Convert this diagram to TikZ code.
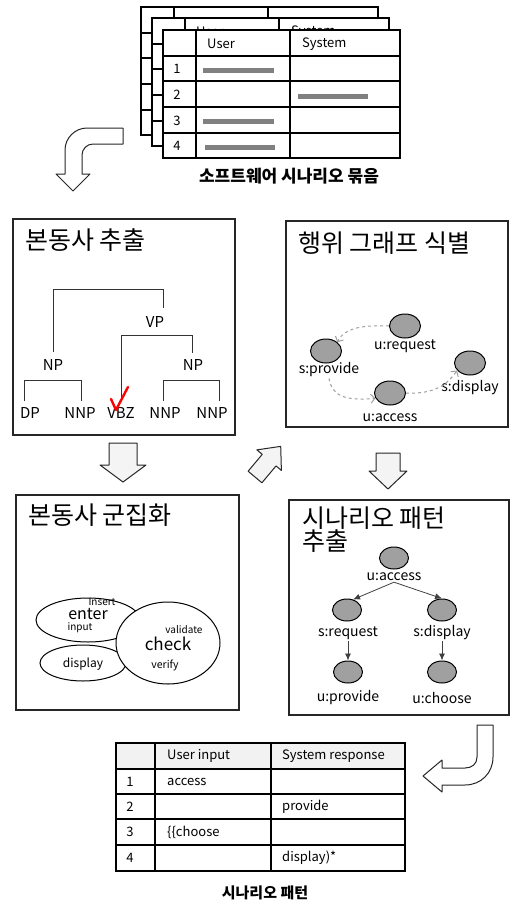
\documentclass[tikz,border=0pt]{standalone}
\usepackage{fontspec}
\setmainfont{Noto Sans CJK KR}
\usetikzlibrary{shapes.geometric,arrows.meta}
\definecolor{nodegray}{RGB}{160,160,160}
\definecolor{bargray}{RGB}{128,128,128}
\definecolor{arrowfill}{RGB}{244,244,244}
\definecolor{hdrfill}{RGB}{242,242,242}
\tikzset{
  mainbox/.style={draw=black!85, line width=1.5pt},
  boxtitle/.style={anchor=west, font=\fontsize{25}{27}\selectfont, inner sep=0},
  tlabel/.style={font=\fontsize{15}{17}\selectfont, inner sep=1pt},
  treeline/.style={draw=black!80, line width=0.8pt},
  gnode/.style={ellipse, draw=black, line width=1pt, fill=nodegray, minimum width=31, minimum height=24, inner sep=0},
  pnode/.style={ellipse, draw=black, line width=1pt, fill=nodegray, minimum width=29, minimum height=22, inner sep=0},
  glabel/.style={font=\fontsize{14}{16}\selectfont, inner sep=1pt},
  dasharrow/.style={draw=black!38, dashed, line width=1pt, -{Straight Barb[length=4pt,width=9pt]}},
  patarrow/.style={draw=black!75, line width=0.8pt, -{Latex[length=7pt,width=6pt]}},
  blockarrow/.style={draw=black!85, line width=1pt, fill=arrowfill, line join=round},
  tabline/.style={draw=black, line width=1.2pt},
  tabtext/.style={font=\fontsize{13}{15}\selectfont, inner sep=0},
  clus/.style={ellipse, draw=black, line width=1pt, fill=white, inner sep=0},
  capt/.style={font=\bfseries\fontsize{17}{19}\selectfont, inner sep=0}
}
\begin{document}
\begin{tikzpicture}[x=1pt,y=-1pt]
\useasboundingbox (0,0) rectangle (510,903);

% ---------- stacked scenario tables ----------
\foreach \i/\ox/\oy in {1/141/7, 2/152/18, 3/163/30} {
  \begin{scope}[shift={(\ox,\oy)}]
    \draw[tabline, fill=white] (0,0) rectangle (237,128);
    \draw[tabline] (33,0) -- (33,128) (127,0) -- (127,128);
    \foreach \ry in {26,51,77,103} \draw[tabline] (0,\ry) -- (237,\ry);
    \ifnum\i>1
      \node[tabtext, anchor=west] (t\i-user) at (44,14) {User};
      \node[tabtext, anchor=west] (t\i-sys) at (139,14) {System};
      \foreach \n/\ry in {1/39, 2/64.5, 3/90.5, 4/116} \node[tabtext] (t\i-r\n) at (14,\ry) {\n};
    \fi
    \fill[bargray] (40,37.5) rectangle (111,42.5);
    \fill[bargray] (135,63.5) rectangle (205,68.5);
    \fill[bargray] (40,88.5) rectangle (111,93.5);
    \fill[bargray] (42,114.5) rectangle (112,119.5);
  \end{scope}
}
\node[capt] (cap1) at (289,176) {소프트웨어 시나리오 묶음};

% ---------- curved arrow top-left ----------
\draw[blockarrow, fill=white] (123,128) -- (87,128) .. controls (75,128) and (65,138) .. (65,150)
  -- (65,174) -- (56,174) -- (73,191) -- (90,174) -- (82,174) -- (82,155)
  .. controls (82,149) and (87,144) .. (93,144) -- (123,144) -- cycle;

% ---------- box 1 ----------
\draw[mainbox] (13,219) rectangle (235,435);
\node[boxtitle] (b1t) at (25,240) {본동사 추출};
\node[tlabel] (vp) at (155,322) {VP};
\node[tlabel] (npL) at (53,365) {NP};
\node[tlabel] (npR) at (193,365) {NP};
\node[tlabel] (dp) at (30,413) {DP};
\node[tlabel] (nnp1) at (80,413) {NNP};
\node[tlabel] (vbz) at (121,413) {VBZ};
\node[tlabel] (nnp2) at (165,413) {NNP};
\node[tlabel] (nnp3) at (212,413) {NNP};
\draw[treeline] (53,352) -- (53,289) -- (163,289) -- (163,308);
\draw[treeline] (121,401) -- (121,335) -- (192,335) -- (192,353);
\draw[treeline] (24,401) -- (24,380) -- (81,380) -- (81,401);
\draw[treeline] (163,401) -- (163,380) -- (219,380) -- (219,401);
\draw[red, line width=2.4pt, line cap=round, line join=round] (111,399) -- (116,410) -- (128,387);

% ---------- box 2 ----------
\draw[mainbox] (286,221) rectangle (508,427);
\node[boxtitle] (b2t) at (298,243) {행위 그래프 식별};
\node[gnode] (ureq) at (405,326) {};
\node[glabel] (ureql) at (405,346) {u:request};
\node[gnode] (sprov) at (326,351) {};
\node[glabel] (sprovl) at (329,370) {s:provide};
\node[gnode] (sdisp) at (470,363) {};
\node[glabel] (sdispl) at (470,388) {s:display};
\node[gnode] (uacc) at (390,393) {};
\node[glabel] (uaccl) at (390,418) {u:access};
\draw[dasharrow] (ureq.west) .. controls (365,325) and (345,327) .. (sprov.north east);
\draw[dasharrow] (sprovl.south) .. controls (332,396) and (345,401) .. (uacc.200);
\draw[dasharrow] (uacc.east) .. controls (430,394) and (445,388) .. (sdisp.210);

% ---------- arrows between boxes ----------
\draw[blockarrow] (109,443) -- (137,443) -- (137,465) -- (146,465) -- (123,482) -- (100,465) -- (109,465) -- cycle;
\draw[blockarrow] (376,453) -- (400,453) -- (400,471) -- (407,471) -- (388,489) -- (369,471) -- (376,471) -- cycle;
\begin{scope}[shift={(255,477)}, rotate=50]
  \draw[blockarrow] (0,-9) -- (22,-9) -- (22,-16) -- (40,0) -- (22,16) -- (22,9) -- (0,9) -- cycle;
\end{scope}

% ---------- box 3 ----------
\draw[mainbox] (16,495) rectangle (239,710);
\node[boxtitle] (b3t) at (28,515) {본동사 군집화};
\node[clus, minimum width=104, minimum height=44] (cEnter) at (88,620) {};
\node[clus, minimum width=86, minimum height=36] (cDisp) at (83,663) {};
\node[clus, minimum width=104, minimum height=82] (cCheck) at (168,643) {};
\node[font=\fontsize{10}{11}\selectfont, inner sep=0] (wIns) at (102,602) {Insert};
\node[font=\fontsize{16}{17}\selectfont, inner sep=0] (wEnt) at (88,614) {enter};
\node[font=\fontsize{10}{11}\selectfont, inner sep=0] (wInp) at (80,628) {input};
\node[font=\fontsize{10}{11}\selectfont, inner sep=0] (wVal) at (184,630) {validate};
\node[font=\fontsize{17}{18}\selectfont, inner sep=0] (wChk) at (168,644) {check};
\node[font=\fontsize{10.5}{11}\selectfont, inner sep=0] (wVer) at (165,665) {verify};
\node[font=\fontsize{12}{13}\selectfont, inner sep=0] (wDis) at (83,664) {display};

% ---------- box 4 ----------
\draw[mainbox] (289,500) rectangle (509,715);
\node[boxtitle] (b4t) at (302,518) {시나리오 패턴};
\node[boxtitle] (b4t2) at (302,541) {추출};
\node[pnode] (pacc) at (394,558) {};
\node[glabel] (paccl) at (394,577) {u:access};
\node[pnode] (preq) at (347,610) {};
\node[glabel] (preql) at (348,633) {s:request};
\node[pnode] (pdis) at (442,610) {};
\node[glabel] (pdisl) at (442,633) {s:display};
\node[pnode] (pprov) at (348,672) {};
\node[glabel] (pprovl) at (348,698) {u:provide};
\node[pnode] (pcho) at (442,672) {};
\node[glabel] (pchol) at (442,698) {u:choose};
\draw[patarrow] (paccl.south) -- (preq.60);
\draw[patarrow] (paccl.south) -- (pdis.north);
\draw[patarrow] (preql.south) -- (pprov.north);
\draw[patarrow] (pdisl.south) -- (pcho.north);

% ---------- curved arrow bottom-right ----------
\draw[blockarrow, fill=white] (477,725) -- (493,725) -- (493,757) .. controls (493,773) and (481,785) .. (465,785)
  -- (442,785) -- (442,792) -- (423,776) -- (442,760) -- (442,768) -- (465,768)
  .. controls (472,768) and (477,764) .. (477,757) -- cycle;

% ---------- pattern table ----------
\fill[hdrfill] (116,743) rectangle (405,769);
\draw[tabline] (116,743) rectangle (405,871);
\draw[tabline] (155,743) -- (155,871) (271,743) -- (271,871);
\foreach \ry in {769,794,819,845} \draw[tabline] (116,\ry) -- (405,\ry);
\node[tabtext, anchor=west] (hUser) at (167,756) {User input};
\node[tabtext, anchor=west] (hSys) at (282,756) {System response};
\foreach \n/\ry in {1/781.5, 2/806.5, 3/832, 4/858} \node[tabtext] (pr\n) at (130,\ry) {\n};
\node[tabtext, anchor=west] (cAcc) at (167,781.5) {access};
\node[tabtext, anchor=west] (cProv) at (282,806.5) {provide};
\node[tabtext, anchor=west] (cCho) at (167,832) {\{\{choose};
\node[tabtext, anchor=west] (cDis) at (282,858) {display)*};
\node[capt, font=\bfseries\fontsize{15}{17}\selectfont] (cap2) at (265,893) {시나리오 패턴};
\end{tikzpicture}
\end{document}
